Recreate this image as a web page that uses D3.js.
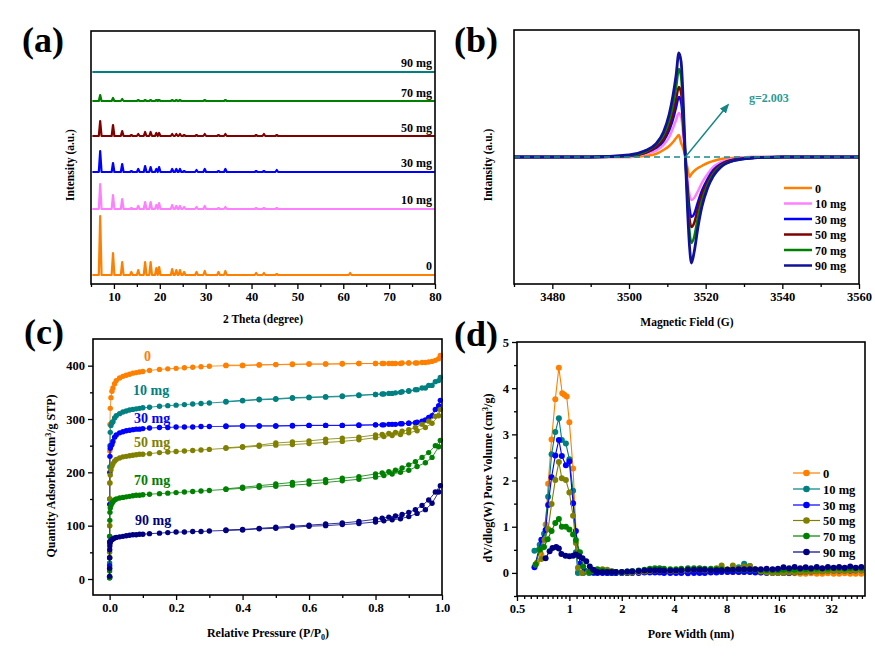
<!DOCTYPE html>
<html><head><meta charset="utf-8">
<script src="https://cdn.jsdelivr.net/npm/d3@7"></script>
<style>
body{margin:0;background:#fff}
text{font-family:"Liberation Serif","Times New Roman",serif;font-weight:bold;fill:#000}
</style>
</head><body>
<svg id="c" width="875" height="656"></svg>
<script>
// ---------------- DATA ----------------
const sampleNames = ["0","10 mg","30 mg","50 mg","70 mg","90 mg"];

// (a) XRD: peak positions (2θ) and heights per sample, plus stacking offsets
const xrdPeakPos = [7.0,9.8,11.8,13.8,15.3,16.8,18.0,19.25,19.85,22.7,23.6,24.4,25.3,28.0,29.8,32.8,34.3,41.0,42.7,45.5,61.5];
const xrdH0  = [59,22,13,3,5,13,13,7,8,6,5,5,3,3,4,3,4,2,2,1,2];
const xrdH10 = [25,14,10,1,3,7,7,4,6,4,3,3,2,2,3,1,2,1,1,1,0];
const xrdH30 = [21,9,8,1,3,6,5,3,5,3,3,3,1,2,3,1,3,1,1,2,0];
const xrdH50 = [15,11,5,1,2,4,4,3,3,2,2,2,1,1,2,1,2,1,2,1,0];
const xrdH70 = [6,3,2,0,1,1,1,1,1,1,1,1,0,0,1,0,1,0,0,0,0];
const xrdH90 = [0,0,0,0,0,0,0,0,0,0,0,0,0,0,0,0,0,0,0,0,0];
const xrdOffsets = [9,75,112,148,183,212];
const xrdTicks = [10,20,30,40,50,60,70,80];

// (b) EPR
const eprField = [3470,3490,3500,3504,3507,3509,3510.5,3511.5,3512.3,3513,3513.6,3514.2,3514.7,3515.3,3515.8,3516.3,3517,3518,3519,3520.5,3522,3524,3527,3532,3540,3560];
const epr0  = [0,0,0,1,3,7,11,15,19,22,14,8,0,-12,-20,-17,-14,-11,-9,-6,-4,-2,-1,0,0,0];
const epr10 = [0,0,0,3,6,12,20,29,37,44,40,20,0,-25,-38,-43,-41,-34,-26,-17,-10,-5,-2,0,0,0];
const epr30 = [0,0,1,4,9,16,27,38,50,60,55,28,0,-32,-52,-60,-57,-45,-34,-22,-13,-7,-3,-1,0,0];
const epr50 = [0,0,1,4,10,18,31,44,58,70,64,32,0,-38,-62,-70,-66,-51,-38,-25,-15,-8,-3,-1,0,0];
const epr70 = [0,0,1,5,12,22,37,53,70,88,80,40,0,-45,-75,-86,-80,-60,-44,-28,-17,-9,-4,-1,0,0];
const epr90 = [0,0,2,6,13,25,43,62,82,104,95,50,0,-55,-90,-106,-95,-70,-50,-31,-19,-10,-4,-1,0,0];
const eprTicks = [3480,3500,3520,3540,3560];

// (c) N2 isotherms: adsorption and desorption branches
const adsP = [0.00001,0.00005,0.0001,0.0003,0.0006,0.001,0.002,0.004,0.007,0.01,0.015,0.02,0.03,0.04,0.05,0.06,0.07,0.08,0.09,0.1,0.12,0.15,0.175,0.2,0.225,0.25,0.275,0.3,0.35,0.4,0.45,0.5,0.55,0.6,0.65,0.7,0.75,0.8,0.825,0.85,0.875,0.9,0.925,0.95,0.97,0.99];
const desP = [0.995,0.98,0.96,0.94,0.92,0.9,0.88,0.86,0.84,0.82,0.8,0.75,0.7,0.65,0.6,0.55,0.5,0.45,0.4,0.35];
const ads0  = [5,40,100,180,240,290,320,340,352,358,366,372,377,380,382,384,386,387,388,389,391,393,394,395,396,397,398,399,400,400,401,402,402,403,403,403,404,404,404,404,404,405,405,406,408,413];
const des0  = [419,410,407,406,405,405,405,404,404,404,404,404,404,403,403,403,402,402,401,401];
const ads10 = [4,30,80,150,210,250,275,288,293,295,302,306,310,313,315,317,318,319,320,321,322,324,325,326,327,328,329,330,332,334,336,337,339,340,341,342,344,346,347,348,350,352,355,358,363,372];
const des10 = [378,370,363,358,355,353,351,349,348,347,346,345,343,342,341,340,338,337,335,333];
const ads30 = [3,25,70,140,200,230,245,250,252,258,266,270,274,276,278,279,280,281,281,282,283,284,284,285,285,285,286,286,286,287,287,287,287,288,288,288,288,289,289,290,291,292,294,298,306,325];
const des30 = [335,318,303,296,293,292,291,290,290,289,289,289,288,288,288,288,287,287,287,287];
const ads50 = [3,20,50,100,150,180,195,205,212,216,221,224,227,229,230,231,232,233,234,234,235,237,238,239,240,241,242,243,245,247,249,251,252,254,256,258,261,265,267,269,271,274,278,284,292,306];
const des50 = [318,305,296,290,284,280,277,275,273,271,270,266,264,262,259,257,255,251,248,246];
const ads70 = [2,15,40,80,110,125,133,138,142,145,148,150,152,153,154,155,156,157,157,158,159,160,161,162,163,164,165,166,168,170,172,174,176,178,181,184,187,191,194,197,200,204,211,218,228,248];
const des70 = [260,250,237,228,220,214,208,204,201,199,197,192,189,186,184,181,178,175,172,169];
const ads90 = [5,20,40,55,62,67,70,72,74,75,77,78,79,80,81,82,83,83,84,84,85,86,87,88,88,89,89,90,91,92,94,95,97,99,100,102,104,107,109,111,113,117,123,130,142,163];
const des90 = [175,163,148,138,130,125,121,118,116,114,112,108,105,103,101,99,97,95,93,92];

// (d) pore size distribution: [width nm, dV/dlogW]
const psdPeak0  = [[0.65,0.22],[0.69,0.4],[0.73,1.05],[0.755,1.93],[0.79,2.89],[0.83,3.76],[0.87,4.44],[0.91,3.89],[0.935,3.86],[0.965,3.82],[1.0,3.26],[1.05,2.26],[1.12,0.02],[1.2,0.0],[1.3,0.0],[1.38,0.01]];
const psdPeak10 = [[0.63,0.48],[0.675,0.61],[0.715,0.85],[0.755,1.65],[0.79,2.57],[0.83,3.05],[0.87,3.35],[0.905,2.88],[0.955,2.8],[1.0,2.46],[1.05,1.78],[1.09,0.45],[1.12,0.0],[1.2,0.0],[1.3,0.0],[1.38,0.0]];
const psdPeak30 = [[0.63,0.12],[0.69,0.72],[0.73,0.93],[0.755,1.47],[0.79,2.07],[0.83,2.54],[0.87,2.88],[0.905,2.53],[0.955,2.33],[1.0,2.41],[1.05,1.51],[1.09,0.91],[1.15,0.2],[1.22,0.05],[1.3,0.02],[1.38,0.01]];
const psdPeak50 = [[0.64,0.18],[0.69,0.3],[0.72,0.72],[0.755,0.95],[0.79,1.49],[0.83,2.01],[0.87,2.4],[0.905,2.05],[0.955,2.01],[1.0,1.74],[1.05,1.24],[1.09,0.65],[1.12,0.11],[1.18,0.0],[1.28,0.02],[1.38,0.04]];
const psdPeak70 = [[0.64,0.18],[0.675,0.5],[0.715,0.56],[0.75,0.73],[0.79,0.91],[0.83,1.08],[0.87,1.17],[0.905,1.0],[0.955,1.0],[1.0,0.94],[1.05,0.83],[1.09,0.71],[1.15,0.45],[1.2,0.14],[1.3,0.02],[1.38,0.05]];
const psdPeak90 = [[0.73,0.32],[0.77,0.47],[0.8,0.54],[0.84,0.56],[0.87,0.53],[0.9,0.41],[0.95,0.37],[1.0,0.36],[1.05,0.37],[1.09,0.4],[1.14,0.36],[1.19,0.32],[1.25,0.25],[1.31,0.14],[1.37,0.07],[1.42,0.03]];
const psdTailW  = [1.45,1.55,1.65,1.75,1.85,2.0,2.15,2.3,2.5,2.7,2.9,3.1,3.3,3.5,3.8,4.1,4.4,4.8,5.2,5.6,6.0,6.5,7.0,7.5,8.1,8.7,9.4,10.1,10.9,11.7,12.6,13.6,14.7,15.8,17,18.3,19.7,21.2,22.8,24.5,26.4,28.4,30.6,33,35.5,38.2,41.1,44.2,47.6];
const psdTail0  = [0.02,0.03,0.03,0.02,0.01,0.01,0.01,0.01,0.02,0.03,0.04,0.05,0.05,0.04,0.03,0.03,0.04,0.05,0.05,0.04,0.04,0.03,0.03,0.03,0.02,0.02,0.02,0.02,0.02,0.02,0.01,0.01,0.01,0.01,0.0,-0.01,-0.01,-0.02,-0.02,-0.01,-0.02,-0.02,-0.01,-0.02,-0.02,-0.01,-0.02,-0.02,-0.02];
const psdTail10 = [0.01,0.01,0.0,0.0,0.0,0.0,0.0,0.01,0.01,0.02,0.03,0.03,0.03,0.02,0.02,0.02,0.03,0.03,0.03,0.02,0.02,0.02,0.02,0.03,0.05,0.08,0.12,0.2,0.15,0.06,0.02,0.02,0.02,0.02,0.03,0.03,0.04,0.04,0.04,0.05,0.04,0.05,0.05,0.05,0.05,0.06,0.05,0.05,0.06];
const psdTail30 = [0.0,0.0,0.0,0.0,0.0,0.0,0.0,0.0,0.0,0.01,0.01,0.01,0.01,0.0,0.0,0.0,0.0,-0.01,0.0,0.0,0.0,0.01,0.01,0.02,0.02,0.02,0.02,0.02,0.02,0.01,0.01,0.0,0.0,0.0,0.0,0.0,0.01,0.02,0.03,0.03,0.04,0.04,0.05,0.05,0.05,0.05,0.05,0.06,0.06];
const psdTail50 = [0.06,0.08,0.07,0.04,0.02,0.01,0.01,0.01,0.02,0.03,0.04,0.05,0.05,0.05,0.04,0.04,0.05,0.06,0.07,0.07,0.06,0.06,0.1,0.16,0.08,0.16,0.1,0.14,0.15,0.08,0.03,0.01,0.0,0.0,0.0,0.01,0.01,0.02,0.02,0.03,0.03,0.03,0.04,0.04,0.05,0.04,0.05,0.05,0.05];
const psdTail70 = [0.08,0.05,0.03,0.02,0.02,0.02,0.03,0.04,0.05,0.07,0.09,0.1,0.1,0.09,0.08,0.08,0.09,0.1,0.1,0.1,0.09,0.09,0.08,0.08,0.07,0.07,0.07,0.07,0.07,0.07,0.06,0.06,0.06,0.06,0.07,0.07,0.07,0.08,0.08,0.08,0.09,0.09,0.09,0.1,0.1,0.09,0.1,0.1,0.1];
const psdTail90 = [0.02,0.02,0.02,0.02,0.02,0.02,0.03,0.03,0.04,0.05,0.06,0.06,0.06,0.05,0.05,0.05,0.06,0.07,0.07,0.07,0.07,0.06,0.06,0.06,0.07,0.07,0.08,0.08,0.08,0.08,0.08,0.09,0.08,0.09,0.12,0.1,0.13,0.1,0.12,0.1,0.13,0.1,0.13,0.11,0.13,0.11,0.14,0.11,0.13];
const psdXTicks = [0.5,1,2,4,8,16,32];

// colours
const colA = ["#ff8000","#ff80ff","#0000ff","#800000","#008000","#008080"];
const colB = ["#ff8000","#ff80ff","#0000ff","#800000","#008000","#10109a"];
const colC = ["#ff8000","#008080","#0000ff","#808000","#008000","#000080"];

// ---------------- HELPERS ----------------
const svg = d3.select("#c");
svg.append("rect").attr("width",875).attr("height",656).attr("fill","#fff");

function styleAxis(g, fs){
  g.select(".domain").remove();
  g.selectAll("line").attr("stroke","#000").attr("stroke-width",1.3);
  g.selectAll("text").attr("font-family",null).attr("font-size",fs+"px").attr("fill","#000");
  g.attr("font-family",null).attr("font-size",null);
}
function bottomAxis(scale, y, major, minor, fmt){
  const g = svg.append("g").attr("transform",`translate(0,${y})`)
    .call(d3.axisBottom(scale).tickValues(major).tickSize(5).tickSizeOuter(0).tickPadding(3).tickFormat(fmt));
  styleAxis(g,12.5);
  const m = svg.append("g").attr("transform",`translate(0,${y})`)
    .call(d3.axisBottom(scale).tickValues(minor).tickSize(3).tickSizeOuter(0).tickFormat(""));
  styleAxis(m,12);
}
function leftAxis(scale, x, major, minor, fmt){
  const g = svg.append("g").attr("transform",`translate(${x},0)`)
    .call(d3.axisLeft(scale).tickValues(major).tickSize(5).tickSizeOuter(0).tickPadding(3).tickFormat(fmt));
  styleAxis(g,12.5);
  const m = svg.append("g").attr("transform",`translate(${x},0)`)
    .call(d3.axisLeft(scale).tickValues(minor).tickSize(3).tickSizeOuter(0).tickFormat(""));
  styleAxis(m,12);
}
function frame(x0,y0,x1,y1){
  svg.append("rect").attr("x",x0).attr("y",y0).attr("width",x1-x0).attr("height",y1-y0)
    .attr("fill","none").attr("stroke","#000").attr("stroke-width",1.6);
}
function panelLabel(t,x,y){
  svg.append("text").attr("x",x).attr("y",y).attr("font-size","36px").text(t);
}
function yTitle(x,y,parts){
  const t = svg.append("text").attr("transform",`translate(${x},${y}) rotate(-90)`)
    .attr("text-anchor","middle").attr("font-size","12px");
  parts.forEach(p=>{
    const s = t.append("tspan").text(p.t);
    if(p.sup){ s.attr("font-size","8px").attr("dy","-4"); }
    if(p.after){ s.attr("dy","4"); }
  });
  return t;
}

// ---------------- PANEL (a) ----------------
{
  const x0=91,x1=435,y0=31,y1=284;
  const x = d3.scaleLinear().domain([5,80]).range([x0,x1]);
  const y = d3.scaleLinear().domain([0,253]).range([y1,y0]);
  const heights = [xrdH0,xrdH10,xrdH30,xrdH50,xrdH70,xrdH90];
  const line = d3.line().x(d=>x(d[0])).y(d=>y(d[1]));
  heights.forEach((H,si)=>{
    const off = xrdOffsets[si];
    const pts = [[5.3,off]];
    xrdPeakPos.forEach((p,i)=>{
      if(H[i]>0){ pts.push([p-0.3,off],[p,off+H[i]],[p+0.3,off]); }
    });
    pts.push([80,off]);
    svg.append("path").attr("d",line(pts)).attr("fill","none")
      .attr("stroke",colA[si]).attr("stroke-width",2.2).attr("stroke-linejoin","round");
  });
  const lblY = [270,204,167,132,97,67];
  sampleNames.forEach((n,i)=>{
    svg.append("text").attr("x",432).attr("y",lblY[i]).attr("text-anchor","end")
      .attr("font-size","12px").text(n);
  });
  frame(x0,y0,x1,y1);
  bottomAxis(x,y1,xrdTicks,[5,15,25,35,45,55,65,75],d3.format("d"));
  svg.append("text").attr("x",263).attr("y",323).attr("text-anchor","middle").attr("font-size","11.5px").text("2 Theta (degree)");
  yTitle(74,165,[{t:"Intensity (a.u.)"}]).attr("font-size","11.5px");
  panelLabel("(a)",22,52);
}

// ---------------- PANEL (b) ----------------
{
  const x0=514,x1=859,y0=30,y1=284;
  const x = d3.scaleLinear().domain([3470,3560]).range([x0,x1]);
  const y = d3.scaleLinear().domain([-127,127]).range([y1,y0]);
  const series = [epr0,epr10,epr30,epr50,epr70,epr90];
  const line = d3.line().x(d=>x(d[0])).y(d=>y(d[1])).curve(d3.curveMonotoneX);
  series.forEach((s,si)=>{
    const pts = eprField.map((f,i)=>[f,s[i]]);
    svg.append("path").attr("d",line(pts)).attr("fill","none")
      .attr("stroke",colB[si]).attr("stroke-width",si===5?2.8:2.5).attr("stroke-linejoin","round");
  });
  // dashed baseline
  svg.append("line").attr("x1",x(3470)).attr("x2",x(3560)).attr("y1",y(0)).attr("y2",y(0))
    .attr("stroke","#1a8c8c").attr("stroke-width",1.3).attr("stroke-dasharray","6,4");
  // arrow
  const ax1=x(3514.7), ay1=y(0), ax2=x(3525.8), ay2=y(52);
  svg.append("defs").append("marker").attr("id","arr").attr("viewBox","0 0 10 10")
    .attr("refX",8).attr("refY",5).attr("markerWidth",7).attr("markerHeight",7).attr("orient","auto")
    .append("path").attr("d","M0,1 L10,5 L0,9 Z").attr("fill","#138585");
  svg.append("line").attr("x1",ax1).attr("y1",ay1).attr("x2",ax2).attr("y2",ay2)
    .attr("stroke","#138585").attr("stroke-width",1.4).attr("marker-end","url(#arr)");
  svg.append("text").attr("x",x(3531.3)).attr("y",y(55)).attr("font-size","12px")
    .style("fill","#2a9a9a").text("g=2.003");
  // legend
  const ly = [188,203.5,219,234.5,250,265.5];
  sampleNames.forEach((n,i)=>{
    svg.append("line").attr("x1",784).attr("x2",812).attr("y1",ly[i]).attr("y2",ly[i])
      .attr("stroke",colB[i]).attr("stroke-width",2.5);
    svg.append("text").attr("x",815).attr("y",ly[i]+4.5).attr("font-size","12px").text(n);
  });
  frame(x0,y0,x1,y1);
  bottomAxis(x,y1,eprTicks,[3470,3490,3510,3530,3550],d3.format("d"));
  svg.append("text").attr("x",687).attr("y",325.5).attr("text-anchor","middle").attr("font-size","11.5px").text("Magnetic Field (G)");
  yTitle(492,165,[{t:"Intansity (a.u.)"}]).attr("font-size","11.5px");
  panelLabel("(b)",454,52);
}

// ---------------- PANEL (c) ----------------
{
  const x0=93,x1=442,y0=339,y1=595;
  const x = d3.scaleLinear().domain([-0.05,1.0]).range([x0,x1]);
  const y = d3.scaleLinear().domain([-30,450]).range([y1,y0]);
  const ads = [ads0,ads10,ads30,ads50,ads70,ads90];
  const des = [des0,des10,des30,des50,des70,des90];
  const line = d3.line().x(d=>x(d[0])).y(d=>y(d[1]));
  ads.forEach((a,si)=>{
    const pts = adsP.map((p,i)=>[p,a[i]]).concat(desP.map((p,i)=>[p,des[si][i]]));
    svg.append("path").attr("d",line(pts)).attr("fill","none")
      .attr("stroke",colC[si]).attr("stroke-width",1).attr("stroke-opacity",0.8);
    svg.append("g").selectAll("circle").data(pts).join("circle")
      .attr("cx",d=>x(d[0])).attr("cy",d=>y(d[1])).attr("r",2.7).attr("fill",colC[si]);
  });
  const lx=[144,133,134,134,134,135], lyy=[361,395,423,447,485,525];
  sampleNames.forEach((n,i)=>{
    svg.append("text").attr("x",lx[i]).attr("y",lyy[i]).attr("font-size","14px")
      .style("fill",colC[i]).text(n);
  });
  frame(x0,y0,x1,y1);
  bottomAxis(x,y1,[0,0.2,0.4,0.6,0.8,1.0],[0.1,0.3,0.5,0.7,0.9],d3.format(".1f"));
  leftAxis(y,x0,[0,100,200,300,400],[50,150,250,350],d3.format("d"));
  const xt = svg.append("text").attr("x",268).attr("y",637).attr("text-anchor","middle").attr("font-size","12px");
  xt.append("tspan").text("Relative Pressure (P/P");
  xt.append("tspan").attr("font-size","8px").attr("dy","3").text("0");
  xt.append("tspan").attr("dy","-3").text(")");
  yTitle(55,476,[{t:"Quantity Adsorbed (cm"},{t:"3",sup:true},{t:"/g STP)",after:true}]);
  panelLabel("(c)",24,344);
}

// ---------------- PANEL (d) ----------------
{
  const x0=517,x1=865,y0=342,y1=596;
  const x = d3.scaleLog().base(2).domain([0.5,50]).range([x0,x1]);
  const y = d3.scaleLinear().domain([-0.5,5]).range([y1,y0]);
  const peaks = [psdPeak0,psdPeak10,psdPeak30,psdPeak50,psdPeak70,psdPeak90];
  const tails = [psdTail0,psdTail10,psdTail30,psdTail50,psdTail70,psdTail90];
  const line = d3.line().x(d=>x(d[0])).y(d=>y(d[1]));
  peaks.forEach((pk,si)=>{
    const pts = pk.concat(psdTailW.map((w,i)=>[w,tails[si][i]]));
    svg.append("path").attr("d",line(pts)).attr("fill","none")
      .attr("stroke",colC[si]).attr("stroke-width",1.1);
    svg.append("g").selectAll("circle").data(pts).join("circle")
      .attr("cx",d=>x(d[0])).attr("cy",d=>y(d[1])).attr("r",3).attr("fill",colC[si]);
  });
  // legend
  const ly=[473,489,505,520.5,536,552];
  sampleNames.forEach((n,i)=>{
    svg.append("line").attr("x1",793).attr("x2",820).attr("y1",ly[i]).attr("y2",ly[i])
      .attr("stroke",colC[i]).attr("stroke-width",1.2);
    svg.append("circle").attr("cx",806.5).attr("cy",ly[i]).attr("r",3.3).attr("fill",colC[i]);
    svg.append("text").attr("x",823).attr("y",ly[i]+4.5).attr("font-size","12.5px").text(n);
  });
  frame(x0,y0,x1,y1);
  const minor=[];
  psdXTicks.forEach(t=>{ for(let k=1;k<=9;k++){ const v=t*(1+k/10); if(v<50) minor.push(v);} });
  bottomAxis(x,y1,psdXTicks,minor,d3.format("~g"));
  leftAxis(y,x0,[0,1,2,3,4,5],[-0.5,0.5,1.5,2.5,3.5,4.5],d3.format("d"));
  svg.append("text").attr("x",691).attr("y",638).attr("text-anchor","middle").attr("font-size","12px").text("Pore Width (nm)");
  yTitle(492,478,[{t:"dV/dlog(W) Pore Volume (cm"},{t:"3",sup:true},{t:"/g)",after:true}]);
  panelLabel("(d)",454,346);
}
</script>
</body></html>
